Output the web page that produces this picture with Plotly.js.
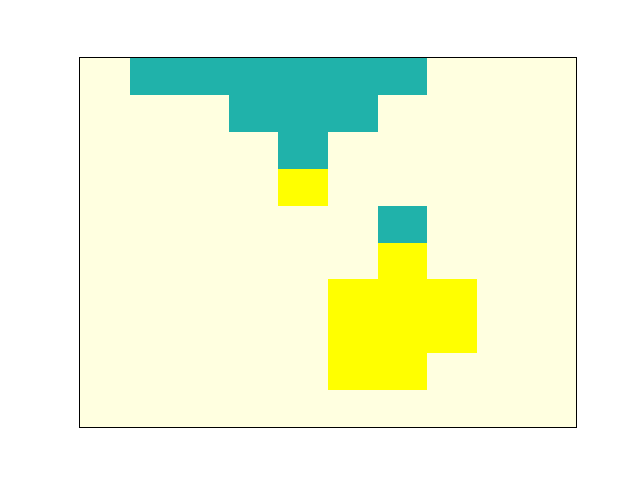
<!DOCTYPE html>
<html>
<head>
<meta charset="utf-8">
<script src="https://cdn.plot.ly/plotly-3.0.1.min.js"></script>
<style>html,body{margin:0;padding:0;background:#fff;}</style>
</head>
<body>
<div id="chart" style="width:640px;height:480px;"></div>
<script>
// 0 = empty, 1 = teal, 2 = yellow
const columns = [0, 1, 2, 3, 4, 5, 6, 7, 8, 9];
const rows = [0, 1, 2, 3, 4, 5, 6, 7, 8, 9];
const row0 = [0, 1, 1, 1, 1, 1, 1, 0, 0, 0];
const row1 = [0, 0, 0, 1, 1, 1, 0, 0, 0, 0];
const row2 = [0, 0, 0, 0, 1, 0, 0, 0, 0, 0];
const row3 = [0, 0, 0, 0, 2, 0, 0, 0, 0, 0];
const row4 = [0, 0, 0, 0, 0, 0, 1, 0, 0, 0];
const row5 = [0, 0, 0, 0, 0, 0, 2, 0, 0, 0];
const row6 = [0, 0, 0, 0, 0, 2, 2, 2, 0, 0];
const row7 = [0, 0, 0, 0, 0, 2, 2, 2, 0, 0];
const row8 = [0, 0, 0, 0, 0, 2, 2, 0, 0, 0];
const row9 = [0, 0, 0, 0, 0, 0, 0, 0, 0, 0];
const grid = [row0, row1, row2, row3, row4, row5, row6, row7, row8, row9];

const trace = {
  type: 'heatmap',
  x: columns,
  y: rows,
  z: grid,
  zmin: 0,
  zmax: 2,
  showscale: false,
  hoverinfo: 'skip',
  colorscale: [
    [0, '#FFFFE0'], [0.3333, '#FFFFE0'],
    [0.3333, '#20B2AA'], [0.6667, '#20B2AA'],
    [0.6667, '#FFFF00'], [1, '#FFFF00']
  ]
};

const axisCommon = {
  showticklabels: false,
  ticks: '',
  showgrid: false,
  zeroline: false,
  showline: true,
  mirror: true,
  linecolor: '#000',
  linewidth: 1
};

const layout = {
  width: 640,
  height: 480,
  margin: {l: 80, r: 64, t: 58, b: 53},
  paper_bgcolor: '#fff',
  plot_bgcolor: '#FFFFE0',
  xaxis: Object.assign({range: [-0.5, 9.5]}, axisCommon),
  yaxis: Object.assign({range: [9.5, -0.5]}, axisCommon),
  showlegend: false
};

Plotly.newPlot('chart', [trace], layout, {displayModeBar: false, staticPlot: true});
</script>
</body>
</html>
